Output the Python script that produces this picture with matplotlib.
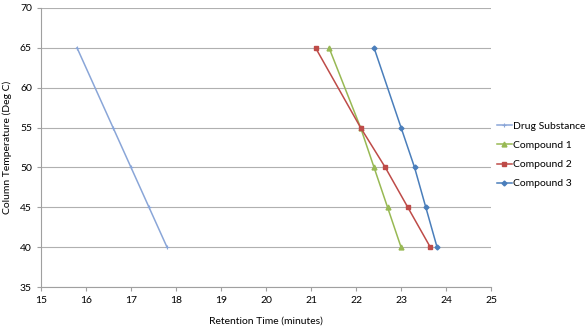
import matplotlib
matplotlib.use("Agg")
import matplotlib.pyplot as plt

# retention times (minutes) at each column temperature
temps = [65, 55, 50, 45, 40]
drug_substance = [15.8, 16.6, 17.0, 17.4, 17.8]
compound1 = [21.4, 22.1, 22.4, 22.7, 23.0]
compound2 = [21.1, 22.1, 22.65, 23.15, 23.65]
compound3 = [22.4, 23.0, 23.3, 23.55, 23.8]

plt.rcParams["font.family"] = ["Lato", "DejaVu Sans"]
plt.rcParams["font.size"] = 7

fig = plt.figure(figsize=(5.86, 3.30), dpi=100)
ax = fig.add_axes([0.070, 0.130, 0.768, 0.846])

ax.plot(drug_substance, temps, color="#8aa6d8", lw=1.1, marker="+", ms=3,
        mew=0.8, label="Drug Substance")
ax.plot(compound1, temps, color="#98b954", lw=1.1, marker="^", ms=3.5,
        label="Compound 1")
ax.plot(compound2, temps, color="#be4b48", lw=1.1, marker="s", ms=3.5,
        label="Compound 2")
ax.plot(compound3, temps, color="#4a7ebb", lw=1.1, marker="D", ms=2.5,
        label="Compound 3")

ax.set_xlim(15, 25)
ax.set_ylim(35, 70)
ax.set_xticks(range(15, 26))
ax.set_yticks(range(35, 71, 5))

ax.grid(axis="y", color="#b0b0b0", lw=0.8)
ax.set_axisbelow(True)
for side in ["top", "right"]:
    ax.spines[side].set_visible(False)
for side in ["left", "bottom"]:
    ax.spines[side].set_color("#a0a0a0")
ax.tick_params(axis="both", color="#a0a0a0", length=3, labelsize=7.5)

ax.set_xlabel("Retention Time (minutes)", fontsize=7.5, labelpad=8)
ax.set_ylabel("Column Temperature (Deg C)", fontsize=7.5, labelpad=6)

ax.legend(loc="center left", bbox_to_anchor=(497 / 586, 1 - 155 / 330),
          bbox_transform=fig.transFigure, frameon=False, borderpad=0,
          borderaxespad=0, fontsize=7.5, handlelength=1.4, labelspacing=0.95,
          handletextpad=0.15)

fig.savefig("out.png", dpi=100)
